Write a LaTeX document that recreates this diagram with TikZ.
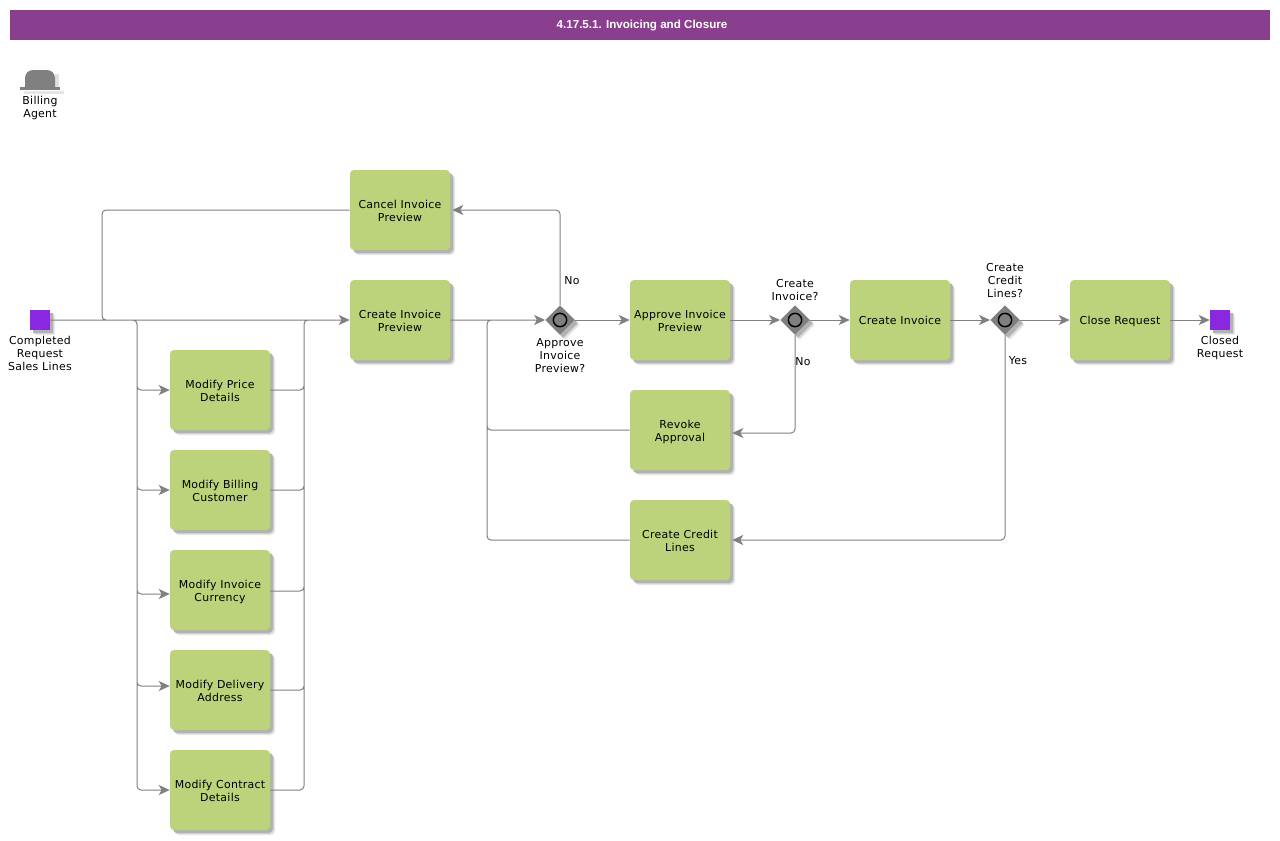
\documentclass[tikz,border=0pt]{standalone}
\usepackage{fontspec}
\setmainfont[LetterSpace=2.5]{DejaVu Sans}
\newfontfamily\titlefont{Liberation Sans}
\usetikzlibrary{arrows.meta,shapes.geometric,shadows,calc}
\definecolor{taskfill}{HTML}{BCD37C}
\definecolor{edgegrey}{HTML}{808080}
\definecolor{gatefill}{HTML}{7F7F7F}
\definecolor{eventfill}{HTML}{8A28E0}
\definecolor{banner}{HTML}{8A3F8E}
% two centred lines with a fixed height and depth, so every task sets its text alike
\newcommand{\twolines}[2]{\rule{0pt}{9.75pt}#1\\#2\rule[-2pt]{0pt}{2pt}}
\tikzset{
  softshadow/.style={
    general shadow={shadow xshift=3.75pt,shadow yshift=-3.75pt,fill=black!9},
    general shadow={shadow xshift=3pt,shadow yshift=-3pt,fill=black!16},
    general shadow={shadow xshift=2.25pt,shadow yshift=-2.25pt,fill=black!30}},
  taskbox/.style={softshadow,fill=taskfill,rounded corners=3pt,minimum width=75pt,minimum height=60pt,
    inner sep=0pt,align=center,font=\fontsize{8.2pt}{9.75pt}\selectfont,text=black},
  eventbox/.style={softshadow,fill=eventfill,minimum size=15pt,inner sep=0pt},
  gatebox/.style={softshadow,diamond,fill=gatefill,minimum size=22pt,inner sep=0pt},
  gatering/.style={circle,draw=black,line width=1.1pt,fill=gatefill,minimum size=10pt,inner sep=0pt},
  caption/.style={align=center,inner sep=0pt,font=\fontsize{8.2pt}{9.75pt}\selectfont,text=black},
  conn/.style={draw=edgegrey,line width=0.75pt,rounded corners=3pt},
  flow/.style={conn,-{Stealth[length=8.25pt,width=7.5pt,inset=2.2pt]}},
}
\begin{document}
\begin{tikzpicture}[x=0.75pt,y=-0.75pt]
\useasboundingbox (0,0) rectangle (1280,840);
\fill[white] (0,0) rectangle (1280,840);

% header band
\node[fill=banner,minimum width=945pt,minimum height=22.5pt,inner sep=0pt] (header) at (640,25) {};
\node[text=white,inner sep=0pt,font=\titlefont\bfseries\fontsize{8.7pt}{11pt}\selectfont] (headertext) at (642,25.5) {4.17.5.1. Invoicing and Closure};

% role icon: a bowler hat with its shadow
\fill[black!10] (24,91) rectangle (64,94);
\fill[black!12] (55,74) rectangle (59,90);
\fill[edgegrey] (25,87) -- (25,78) to[out=90,in=180] (33,70) -- (47,70) to[out=0,in=90] (55,78) -- (55,87) -- cycle;
\fill[edgegrey] (20,87) rectangle (60,90);
\node[caption] (role) at (40,107.5) {Billing\\Agent};

% tasks
\node[taskbox] (cancel) at (400,210) {\twolines{Cancel Invoice}{Preview}};
\node[taskbox] (create) at (400,320) {\twolines{Create Invoice}{Preview}};
\node[taskbox] (mod1) at (220,390) {\twolines{Modify Price}{Details}};
\node[taskbox] (mod2) at (220,490) {\twolines{Modify Billing}{Customer}};
\node[taskbox] (mod3) at (220,590) {\twolines{Modify Invoice}{Currency}};
\node[taskbox] (mod4) at (220,690) {\twolines{Modify Delivery}{Address}};
\node[taskbox] (mod5) at (220,790) {\twolines{Modify Contract}{Details}};
\node[taskbox] (approve) at (680,320) {\twolines{Approve Invoice}{Preview}};
\node[taskbox] (revoke) at (680,430) {\twolines{Revoke}{Approval}};
\node[taskbox] (credit) at (680,540) {\twolines{Create Credit}{Lines}};
\node[taskbox,text height=6.2pt,text depth=0pt] (invoice) at (900,320) {Create Invoice};
\node[taskbox,text height=6.2pt,text depth=0pt] (close) at (1120,320) {Close Request};

% events
\node[eventbox] (start) at (40,320) {};
\node[eventbox] (end) at (1220,320) {};
\node[caption] (startlabel) at (40,353) {Completed\\Request\\Sales Lines};
\node[caption] (endlabel) at (1220,347.5) {Closed\\Request};

% gateways
\node[gatebox] (gate1) at (560,320) {};
\node[gatebox] (gate2) at (795,320) {};
\node[gatebox] (gate3) at (1005,320) {};
\node[gatering] (ring1) at (560,320) {};
\node[gatering] (ring2) at (795,320) {};
\node[gatering] (ring3) at (1005,320) {};
\node[caption] (gate1label) at (560,356) {Approve\\Invoice\\Preview?};
\node[caption] (gate2label) at (795,290.5) {Create\\Invoice?};
\node[caption] (gate3label) at (1005,281) {Create\\Credit\\Lines?};
\node[caption] (no1) at (572,281) {No};
\node[caption] (no2) at (803,362) {No};
\node[caption] (yes) at (1018,361) {Yes};

% vertical routing lines
\coordinate (loopback) at (102,320);
\coordinate (fanout) at (137,320);
\coordinate (fanin) at (304,320);
\coordinate (rework) at (487,320);

% main line, cancel rework and the modification fan, stroked as one path
\draw[conn]
  (start.east) -- ($(create.west)+(-8,0)$)
  (cancel.west) -- (cancel.west -| loopback) -- (loopback) -- ++(6,0)
  ($(fanout)+(-6,0)$) -- (fanout) -- (fanout |- mod1.west) -- ($(mod1.west)+(-8,0)$)
  ($(fanout)+(-6,0)$) -- (fanout) -- (fanout |- mod2.west) -- ($(mod2.west)+(-8,0)$)
  ($(fanout)+(-6,0)$) -- (fanout) -- ($(fanout |- mod3.west)+(0,4)$) -- ($(mod3.west)+(-8,4)$)
  ($(fanout)+(-6,0)$) -- (fanout) -- ($(fanout |- mod4.west)+(0,-4)$) -- ($(mod4.west)+(-8,-4)$)
  ($(fanout)+(-6,0)$) -- (fanout) -- (fanout |- mod5.west) -- ($(mod5.west)+(-8,0)$)
  (mod1.east) -- (mod1.east -| fanin) -- (fanin) -- ++(6,0)
  (mod2.east) -- (mod2.east -| fanin) -- (fanin) -- ++(6,0)
  ($(mod3.east)+(0,1)$) -- ($(mod3.east -| fanin)+(0,1)$) -- (fanin) -- ++(6,0)
  (mod4.east) -- (mod4.east -| fanin) -- (fanin) -- ++(6,0)
  (mod5.east) -- (mod5.east -| fanin) -- (fanin) -- ++(6,0);

% arrow tips closing the fan and the main line
\draw[flow] ($(create.west)+(-9,0)$) -- (create.west);
\draw[flow] ($(mod1.west)+(-9,0)$) -- (mod1.west);
\draw[flow] ($(mod2.west)+(-9,0)$) -- (mod2.west);
\draw[flow] ($(mod3.west)+(-9,4)$) -- ($(mod3.west)+(0,4)$);
\draw[flow] ($(mod4.west)+(-9,-4)$) -- ($(mod4.west)+(0,-4)$);
\draw[flow] ($(mod5.west)+(-9,0)$) -- (mod5.west);

% revoked approvals and credit lines return to the first gateway
\draw[conn]
  (create.east) -- ($(gate1.west)+(-8,0)$)
  (revoke.west) -- (revoke.west -| rework) -- (rework) -- ++(6,0)
  (credit.west) -- (credit.west -| rework) -- (rework) -- ++(6,0);
\draw[flow] ($(gate1.west)+(-9,0)$) -- (gate1.west);

% approval path
\draw[flow] (gate1.north) -- (gate1.north |- cancel.east) -- ($(cancel.east)+(2,0)$);
\draw[flow] (gate1.east) -- (approve.west);
\draw[flow] (approve.east) -- (gate2.west);
\draw[flow] (gate2.east) -- (invoice.west);
\draw[flow] (gate2.south) -- ($(gate2.south |- revoke.east)+(0,3)$) -- ($(revoke.east)+(2,3)$);
\draw[flow] (invoice.east) -- (gate3.west);
\draw[flow] (gate3.east) -- (close.west);
\draw[flow] (gate3.south) -- (gate3.south |- credit.east) -- ($(credit.east)+(2,0)$);
\draw[flow] (close.east) -- (end.west);
\end{tikzpicture}
\end{document}
